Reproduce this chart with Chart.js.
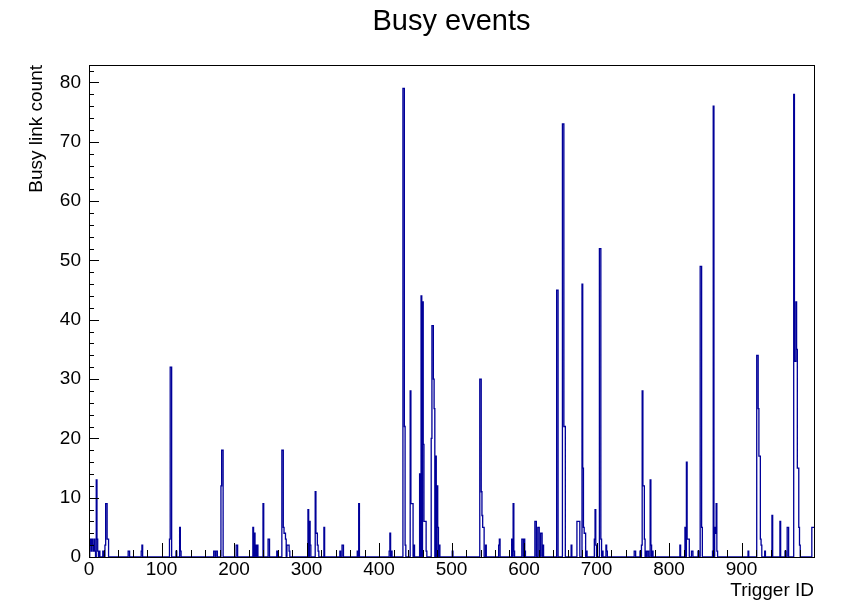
<!DOCTYPE html>
<html>
<head>
<meta charset="utf-8">
<title>Busy events</title>
<script src="https://cdn.jsdelivr.net/npm/chart.js@4.4.1/dist/chart.umd.min.js"></script>
<style>
  html, body { margin: 0; padding: 0; background: #fff; }
  #wrap { width: 841px; height: 602px; }
</style>
</head>
<body>
<div id="wrap"><canvas id="busyChart" width="841" height="602"></canvas></div>
<script>
// Histogram of busy link count per trigger ID (1000 bins, only non-empty bins listed)
const nBins = 1000;
const binIds = [
  1, 2, 3, 4, 5, 6, 7, 8, 10, 11, 12, 14, 19, 22, 23, 24, 25, 26,
  54, 55, 72, 73, 111, 112, 113, 120, 125, 126,
  172, 173, 175, 176, 182, 183, 184, 203, 204, 226, 228, 230, 232, 240, 247, 248, 259,
  266, 267, 268, 269, 270, 271, 273, 274, 275, 276,
  302, 304, 305, 312, 313, 314, 315, 316, 324, 346, 349, 350, 370, 372,
  414, 415, 417, 433, 434, 435, 436, 443, 444, 445, 446, 448,
  456, 458, 460, 461, 462, 463, 464, 465,
  472, 473, 474, 475, 476, 478, 480, 481, 483,
  501, 539, 540, 541, 542, 543, 544, 547, 565, 566, 583, 585, 586, 597, 598, 600, 601,
  615, 616, 619, 620, 623, 624, 626,
  645, 646, 653, 654, 655, 656, 665, 673, 674, 675, 676,
  680, 681, 682, 683, 684, 686, 697, 698, 699, 704, 705, 706, 708, 713, 714,
  752, 753, 760, 762, 763, 764, 765, 766, 768, 770, 771, 774, 775, 777,
  815, 822, 824, 825, 826, 827, 831, 832, 840, 843, 844, 845, 860, 861, 863, 864, 865, 866,
  909, 921, 922, 923, 924, 925, 926, 927, 932, 942, 953, 960, 963, 964,
  972, 973, 974, 975, 976, 977, 978, 979, 980, 997, 998, 999
];
const counts = [
  2, 3, 1, 3, 2, 1, 3, 1, 13, 3, 1, 1, 1, 2, 9, 9, 3, 3,
  1, 1, 1, 2, 3, 32, 32, 1, 5, 1,
  1, 1, 1, 1, 12, 18, 18, 2, 2, 5, 4, 2, 2, 9, 3, 3, 1,
  18, 18, 5, 4, 4, 3, 2, 2, 2, 1,
  8, 6, 2, 11, 4, 4, 2, 1, 5, 1, 2, 2, 1, 9,
  1, 4, 1, 79, 79, 22, 2, 28, 9, 9, 9, 2,
  14, 44, 43, 19, 6, 6, 6, 1,
  20, 39, 39, 30, 25, 17, 12, 5, 2,
  1, 30, 30, 11, 7, 5, 5, 2, 2, 3, 3, 9, 1, 3, 3, 3, 1,
  6, 6, 5, 5, 4, 4, 2,
  45, 45, 73, 73, 22, 22, 2, 6, 6, 6, 6,
  46, 15, 5, 4, 4, 1, 3, 8, 2, 52, 52, 3, 1, 2, 1,
  1, 1, 1, 2, 28, 12, 12, 3, 1, 1, 1, 13, 2, 1,
  2, 5, 16, 3, 3, 3, 1, 1, 1, 49, 49, 5, 1, 76, 5, 4, 9, 1,
  1, 34, 34, 25, 17, 17, 3, 2, 1, 7, 6, 1, 5, 5,
  78, 33, 33, 43, 35, 15, 15, 5, 2, 5, 5, 5
];
const xTickValues = [0, 100, 200, 300, 400, 500, 600, 700, 800, 900];
const yTickValues = [0, 10, 20, 30, 40, 50, 60, 70, 80];
const yMax = 82.95;

// Build full bin contents, then step points at the bin lower edges
const contents = new Array(nBins).fill(0);
binIds.forEach((b, i) => { contents[b] = counts[i]; });
const points = contents.map((v, i) => ({ x: i, y: v }));
points.push({ x: nBins, y: contents[nBins - 1] });

const labelFont = { family: "'Liberation Sans', Arial, Helvetica, sans-serif", size: 19 };

// ROOT style frame with ticks drawn inside
const frameTicks = {
  id: 'frameTicks',
  afterDatasetsDraw(chart) {
    const { ctx, chartArea: a, scales } = chart;
    ctx.save();
    ctx.strokeStyle = '#000';
    ctx.lineWidth = 1;
    ctx.beginPath();
    for (let v = 0; v <= nBins; v += 20) {
      const px = Math.round(scales.x.getPixelForValue(v)) + 0.5;
      const len = v % 100 === 0 ? 14 : 7;
      ctx.moveTo(px, a.bottom);
      ctx.lineTo(px, a.bottom - len);
    }
    for (let v = 0; v <= yMax; v += 2) {
      const py = Math.round(scales.y.getPixelForValue(v)) + 0.5;
      const len = v % 10 === 0 ? 10 : 5;
      ctx.moveTo(a.left, py);
      ctx.lineTo(a.left + len, py);
    }
    ctx.stroke();
    ctx.strokeRect(Math.round(a.left) + 0.5, Math.round(a.top) + 0.5,
                   Math.round(a.right - a.left), Math.round(a.bottom - a.top));
    ctx.restore();
  }
};

const ctx = document.getElementById('busyChart').getContext('2d');
new Chart(ctx, {
  type: 'line',
  data: {
    datasets: [{
      label: 'Busy events',
      data: points,
      borderColor: '#000099',
      borderWidth: 1.3,
      pointRadius: 0,
      stepped: true,
      fill: false,
      clip: false
    }]
  },
  options: {
    responsive: false,
    animation: false,
    layout: { padding: { left: 0, right: 27, top: 0, bottom: 0 } },
    plugins: {
      legend: { display: false },
      tooltip: { enabled: false },
      title: {
        display: true,
        text: 'Busy events',
        fullSize: false,
        color: '#000',
        font: { family: "'Liberation Sans', Arial, Helvetica, sans-serif", size: 29, weight: 'normal' },
        padding: { top: 4.5, bottom: 25.7 }
      }
    },
    scales: {
      x: {
        type: 'linear',
        min: 0,
        max: nBins,
        afterFit: s => { s.height = 45; },
        afterBuildTicks: s => { s.ticks = xTickValues.map(v => ({ value: v })); },
        ticks: { padding: 1, color: '#000', font: labelFont, maxRotation: 0, autoSkip: false },
        grid: { display: false, drawTicks: false },
        border: { display: false },
        title: { display: true, text: 'Trigger ID', align: 'end', color: '#000', font: labelFont, padding: 0 }
      },
      y: {
        type: 'linear',
        min: 0,
        max: yMax,
        afterFit: s => { s.width = 89; },
        afterBuildTicks: s => { s.ticks = yTickValues.map(v => ({ value: v })); },
        ticks: { padding: 8, color: '#000', font: labelFont },
        grid: { display: false, drawTicks: false },
        border: { display: false },
        title: { display: true, text: 'Busy link count', align: 'end', color: '#000', font: labelFont, padding: { top: 25, bottom: 0 } }
      }
    }
  },
  plugins: [frameTicks]
});
</script>
</body>
</html>
